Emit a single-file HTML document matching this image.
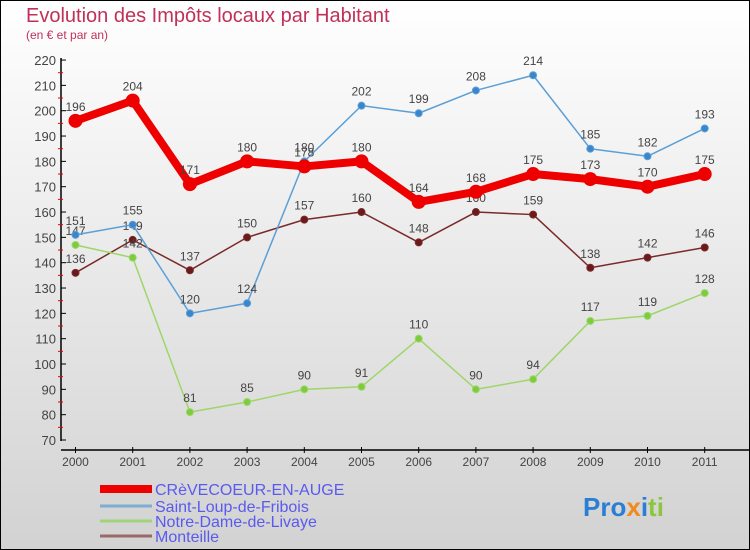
<!DOCTYPE html>
<html><head><meta charset="utf-8"><style>
body{margin:0}
svg{display:block;font-family:"Liberation Sans",sans-serif}
</style></head><body>
<svg id="c" width="750" height="550">
<defs><linearGradient id="bg" x1="0" y1="0" x2="0" y2="1"><stop offset="0" stop-color="#ffffff"/><stop offset="1" stop-color="#d2d2d2"/></linearGradient></defs>
<rect x="0.5" y="0.5" width="749" height="549" fill="url(#bg)" stroke="#000"/>
<text x="26" y="22" font-size="20" fill="#c0305a">Evolution des Impôts locaux par Habitant</text>
<text x="26" y="39" font-size="12" fill="#c0305a">(en € et par an)</text>
<g id="axes"></g><g id="series"></g><g id="legend"></g>
<text x="583" y="516" font-size="26" font-weight="bold"><tspan fill="#2a7fd4">Pro</tspan><tspan fill="#f08a1c">x</tspan><tspan fill="#2a7fd4">i</tspan><tspan fill="#8cc63f">ti</tspan></text>
</svg>
<script>
const years=["2000","2001","2002","2003","2004","2005","2006","2007","2008","2009","2010","2011"];
const yTicks=[70,80,90,100,110,120,130,140,150,160,170,180,190,200,210,220];
const crev=[196,204,171,180,178,180,164,168,175,173,170,175];
const saint=[151,155,120,124,180,202,199,208,214,185,182,193];
const notre=[147,142,81,85,90,91,110,90,94,117,119,128];
const mont=[136,149,137,150,157,160,148,160,159,138,142,146];
const names=["CRèVECOEUR-EN-AUGE","Saint-Loup-de-Fribois","Notre-Dame-de-Livaye","Monteille"];
const NS="http://www.w3.org/2000/svg";
const X=i=>75.5+i*57.2, Y=v=>440-(v-70)*2.533;
function mk(p,t,a){const e=document.createElementNS(NS,t);for(const k in a)e.setAttribute(k,a[k]);p.appendChild(e);return e;}
const ax=document.getElementById('axes');
let e=mk(ax,'line',{x1:61,y1:58,x2:61,y2:441,stroke:'#000','stroke-width':1.5});


e=mk(ax,'line',{x1:61,y1:450,x2:750,y2:450,stroke:'#000','stroke-width':1.5});


yTicks.forEach((v,i)=>{
 mk(ax,'line',{x1:61,y1:Y(v),x2:66,y2:Y(v),stroke:'#000'});
 if(i<yTicks.length-1)mk(ax,'line',{x1:58,y1:Y(v+5),x2:63,y2:Y(v+5),stroke:'#e00'});
 const t=mk(ax,'text',{x:56,y:Y(v)+5,'font-size':13,fill:'#444','text-anchor':'end'});t.textContent=v;
 
 
});
years.forEach((y,i)=>{
 mk(ax,'line',{x1:X(i),y1:447,x2:X(i),y2:453,stroke:'#000'});
 const t=mk(ax,'text',{x:X(i),y:466,'font-size':12,fill:'#444','text-anchor':'middle'});t.textContent=y;
 
 
});
const sg=document.getElementById('series');
function series(d,col,dot,w,r,name){
 const g=mk(sg,'g',{});
 
 
 mk(g,'polyline',{points:d.map((v,i)=>X(i)+','+Y(v)).join(' '),fill:'none',stroke:col,'stroke-width':w,'stroke-linejoin':'round'});
 d.forEach((v,i)=>{
  const c=mk(g,'circle',{cx:X(i),cy:Y(v),r:r,fill:dot,stroke:col});
  
  
  const t=mk(g,'text',{x:X(i),y:Y(v)-10,'font-size':12,fill:'#444','text-anchor':'middle'});t.textContent=v;
  
  
 });
}
series(mont,'#7a2a2a','#6a1a1a',1.5,3.5,'series-monteille');
series(notre,'#9ed66a','#7ccc3c',1.5,3.5,'series-notre-dame');
series(saint,'#5b9fd6','#3a86cc',1.5,3.5,'series-saint-loup');
series(crev,'#ee0000','#ee0000',8,6.5,'series-crevecoeur');
const lg=document.getElementById('legend');
const cols=['#ee0000','#7fadd0','#9fd47a','#9a6a6a'],ws=[8,3,3,3],ly=[491,508,523,538];
names.forEach((n,i)=>{
 const g=mk(lg,'g',{});
 
 
 mk(g,'line',{x1:100,y1:ly[i]-2,x2:152,y2:ly[i]-2,stroke:cols[i],'stroke-width':ws[i]});
 const t=mk(g,'text',{x:155,y:ly[i]+4,'font-size':16,fill:'#5a5aee'});t.textContent=n;
});
</script>
</body></html>
